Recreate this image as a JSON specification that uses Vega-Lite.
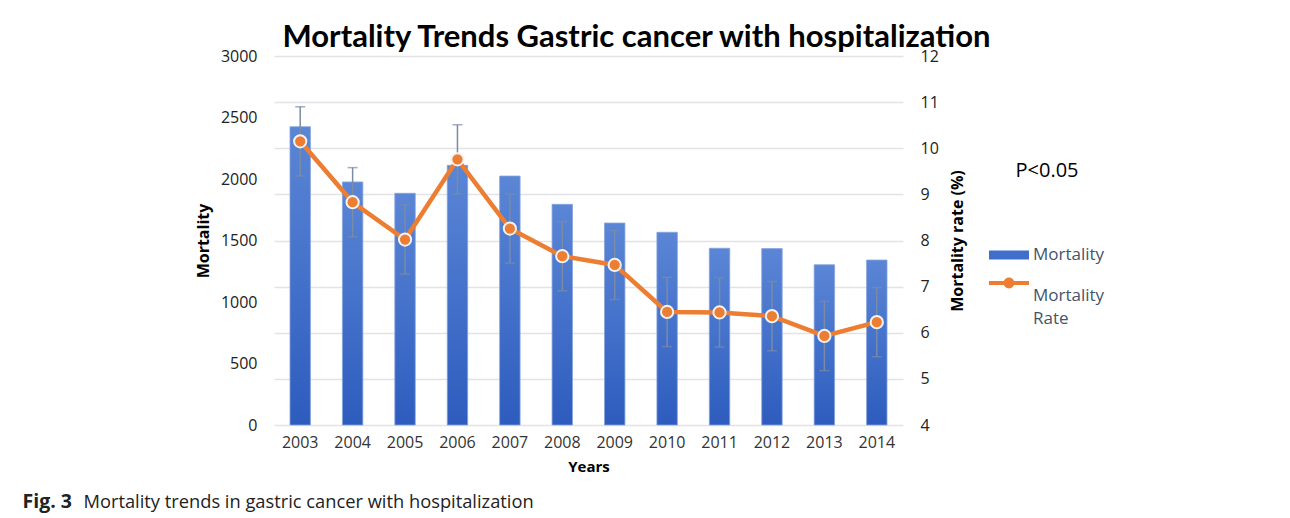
{
  "$schema": "https://vega.github.io/schema/vega-lite/v6.json",
  "width": 629,
  "height": 369,
  "autosize": {"type": "none"},
  "padding": {"left": 274, "top": 56, "right": 387, "bottom": 93},
  "background": "white",
  "config": {"view": {"stroke": null}, "font": "Open Sans"},
  "title": {
    "text": "Mortality Trends Gastric cancer with hospitalization",
    "anchor": "middle",
    "frame": "group",
    "dx": 48,
    "offset": -6,
    "font": "Lato",
    "fontSize": 31,
    "fontWeight": "bold",
    "color": "#000000"
  },
  "data": {
    "values": [
      {"year": "2003", "mortality": 2425, "rate": 10.15, "lo": 9.40, "hi": 10.90},
      {"year": "2004", "mortality": 1976, "rate": 8.83, "lo": 8.08, "hi": 9.58},
      {"year": "2005", "mortality": 1884, "rate": 8.02, "lo": 7.27, "hi": 8.77},
      {"year": "2006", "mortality": 2111, "rate": 9.76, "lo": 9.01, "hi": 10.51},
      {"year": "2007", "mortality": 2024, "rate": 8.26, "lo": 7.51, "hi": 9.01},
      {"year": "2008", "mortality": 1794, "rate": 7.66, "lo": 6.91, "hi": 8.41},
      {"year": "2009", "mortality": 1642, "rate": 7.47, "lo": 6.72, "hi": 8.22},
      {"year": "2010", "mortality": 1567, "rate": 6.45, "lo": 5.70, "hi": 7.20},
      {"year": "2011", "mortality": 1437, "rate": 6.44, "lo": 5.69, "hi": 7.19},
      {"year": "2012", "mortality": 1434, "rate": 6.36, "lo": 5.61, "hi": 7.11},
      {"year": "2013", "mortality": 1303, "rate": 5.93, "lo": 5.18, "hi": 6.68},
      {"year": "2014", "mortality": 1341, "rate": 6.23, "lo": 5.48, "hi": 6.98}
    ]
  },
  "layer": [
    {
      "mark": {
        "type": "bar",
        "color": {
          "gradient": "linear",
          "x1": 0, "y1": 0, "x2": 0, "y2": 1,
          "stops": [
            {"offset": 0, "color": "#5b86d6"},
            {"offset": 1, "color": "#2d5cbe"}
          ]
        },
        "stroke": "#86a3dd",
        "strokeWidth": 0.8
      },
      "encoding": {
        "x": {
          "field": "year",
          "type": "ordinal",
          "scale": {"paddingInner": 0.61, "paddingOuter": 0.305},
          "axis": {
            "orient": "bottom",
            "title": "Years",
            "titleFontWeight": "bold",
            "titleFontSize": 15,
            "titleColor": "#000000",
            "titlePadding": 9,
            "labelAngle": 0,
            "labelFontSize": 16,
            "labelPadding": 9,
            "labelColor": "#333333",
            "domain": false,
            "ticks": false,
            "grid": false
          }
        },
        "y": {
          "field": "mortality",
          "type": "quantitative",
          "scale": {"domain": [0, 3000]},
          "axis": {
            "orient": "left",
            "values": [0, 500, 1000, 1500, 2000, 2500, 3000],
            "format": "d",
            "grid": false,
            "domain": false,
            "ticks": false,
            "labelPadding": 17,
            "labelFontSize": 16,
            "labelColor": "#222222",
            "title": "Mortality",
            "titleFontSize": 16,
            "titleFontWeight": "bold",
            "titleColor": "#000000",
            "titlePadding": 9
          }
        }
      }
    },
    {
      "encoding": {
        "x": {
          "field": "year",
          "type": "ordinal",
          "axis": {
            "orient": "bottom",
            "domain": false,
            "ticks": false,
            "labels": false,
            "grid": false,
            "title": "Mortality trends in gastric cancer with hospitalization",
            "titleX": -191,
            "titleY": 82,
            "titleAlign": "left",
            "titleBaseline": "alphabetic",
            "titleAngle": 0,
            "titleFontSize": 18.3,
            "titleFontWeight": "normal",
            "titleColor": "#222222"
          }
        }
      },
      "layer": [
        {
          "mark": {"type": "rule", "color": "#7a8ba5", "strokeWidth": 1.5},
          "encoding": {
            "y": {"field": "lo", "type": "quantitative", "scale": {"domain": [4, 12]}, "axis": null},
            "y2": {"field": "hi"}
          }
        },
        {
          "mark": {"type": "tick", "color": "#7a8ba5", "size": 10, "thickness": 1.5},
          "encoding": {
            "y": {"field": "lo", "type": "quantitative", "scale": {"domain": [4, 12]}, "axis": null}
          }
        },
        {
          "mark": {"type": "tick", "color": "#7a8ba5", "size": 10, "thickness": 1.5},
          "encoding": {
            "y": {"field": "hi", "type": "quantitative", "scale": {"domain": [4, 12]}, "axis": null}
          }
        }
      ]
    },
    {
      "encoding": {
        "x": {
          "field": "year",
          "type": "ordinal",
          "axis": {
            "orient": "bottom",
            "domain": false,
            "ticks": false,
            "labels": false,
            "grid": false,
            "title": "Fig. 3",
            "titleX": -252,
            "titleY": 82,
            "titleAlign": "left",
            "titleBaseline": "alphabetic",
            "titleAngle": 0,
            "titleFontSize": 19.5,
            "titleFontWeight": "bold",
            "titleColor": "#222222"
          }
        },
        "y": {
          "field": "rate",
          "type": "quantitative",
          "scale": {"domain": [4, 12]},
          "axis": {
            "orient": "right",
            "values": [4, 5, 6, 7, 8, 9, 10, 11, 12],
            "grid": true,
            "gridColor": "#e1e3e6",
            "gridWidth": 1.3,
            "domain": false,
            "ticks": false,
            "labelPadding": 17,
            "labelFontSize": 16,
            "labelColor": "#222222",
            "title": "Mortality rate (%)",
            "titleAngle": 270,
            "titleBaseline": "top",
            "titleFontSize": 16,
            "titleFontWeight": "bold",
            "titleColor": "#000000",
            "titlePadding": 11
          }
        },
        "color": {
          "datum": "Mortality Rate",
          "scale": {"domain": ["Mortality", "Mortality Rate"], "range": ["#3F6FCB", "#ED7D31"]},
          "legend": {
            "orient": "none",
            "legendX": 715,
            "legendY": 105,
            "padding": 0,
            "title": "P<0.05",
            "titleFont": "Open Sans",
            "titleFontSize": 20,
            "titleFontWeight": "normal",
            "titleColor": "#000000",
            "titleAnchor": "middle",
            "titlePadding": 54,
            "symbolSize": 1600,
            "symbolStrokeWidth": 0,
            "labelFont": "Open Sans",
            "labelFontSize": 17,
            "labelColor": "#44546A",
            "labelOffset": 4,
            "rowPadding": 0,
            "labelExpr": "datum.label === 'Mortality Rate' ? ['Mortality', 'Rate'] : datum.label",
            "encoding": {
              "symbols": {
                "shape": {"value": {"expr": "datum.value === 'Mortality' ? 'M-1,-0.225H1V0.225H-1Z' : 'M-1,-0.1H1V0.1H-1Z M0.27,0A0.27,0.27 0 1 1 -0.27,0A0.27,0.27 0 1 1 0.27,0Z'"}},
                "fill": {"value": {"expr": "datum.value === 'Mortality' ? '#3F6FCB' : '#ED7D31'"}},
                "stroke": {"value": "transparent"},
                "strokeWidth": {"value": 0},
                "opacity": {"value": 1}
              },
              "labels": {
                "lineHeight": {"value": 23},
                "dy": {"value": {"expr": "datum.value === 'Mortality Rate' ? 13 : 0"}}
              }
            }
          }
        }
      },
      "layer": [
        {"mark": {"type": "line", "strokeWidth": 4.5}},
        {"mark": {"type": "point", "filled": true, "size": 150, "opacity": 1, "stroke": "#f2f2f2", "strokeWidth": 2}}
      ]
    }
  ],
  "resolve": {
    "scale": {"y": "independent"},
    "axis": {"x": "independent", "y": "independent"}
  }
}
